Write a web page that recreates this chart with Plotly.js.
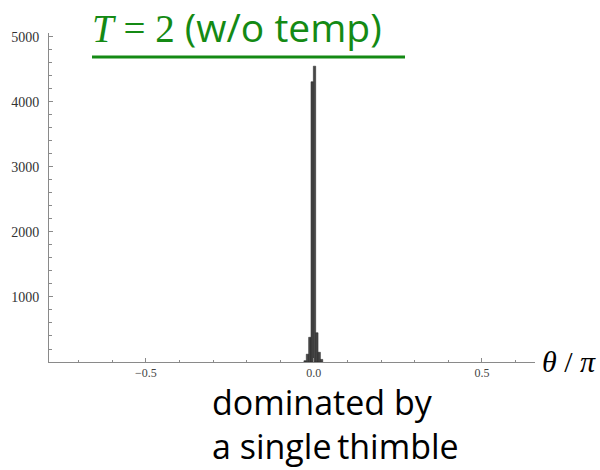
<!DOCTYPE html>
<html>
<head>
<meta charset="utf-8">
<script src="https://cdn.plot.ly/plotly-3.0.1.min.js"></script>
<style>
  html, body { margin: 0; padding: 0; background: #fff; }
  #chart { width: 600px; height: 470px; }
</style>
</head>
<body>
<div id="chart"></div>
<script>
// Histogram of the winding angle theta/pi, T = 2 without tempering
const binCenters = [-0.026, -0.019, -0.012, -0.005, 0.002, 0.009, 0.016, 0.023];
const binCounts  = [20, 120, 380, 4310, 4550, 450, 150, 40];
const binWidth = 0.007;

const xTickVals = [-0.5, 0.0, 0.5];
const xTickText = ['\u22120.5', '0.0', '0.5'];
const yTickVals = [1000, 2000, 3000, 4000, 5000];

const titleText = '<span style="font-family:\'Liberation Serif\'"><i>T</i> = 2</span> (w/o temp)';
const noteText = 'dominated by<br>a single\u2009thimble';
const axisLabel = '<i>\u03b8</i> / <i>\u03c0</i>';

const green = '#148a14';
const axisGrey = '#8a8a8a';

// plot area in pixels: left 49, right 535, top 33, bottom 362
const L = 49, R = 535, T = 33, B = 362;
const px = v => (v - L) / (R - L);
const py = v => (B - v) / (B - T);

const trace = {
  type: 'bar',
  x: binCenters,
  y: binCounts,
  width: binCenters.map(() => binWidth),
  marker: { color: 'rgba(55,55,55,0.92)', line: { color: '#222', width: 0.5 } },
  hoverinfo: 'x+y'
};

const layout = {
  width: 600, height: 470,
  margin: { l: L, r: 600 - R, t: T, b: 470 - B, pad: 0 },
  paper_bgcolor: '#fff', plot_bgcolor: '#fff',
  showlegend: false,
  bargap: 0,
  title: {
    text: titleText,
    xref: 'container', yref: 'container',
    x: 92 / 600, xanchor: 'left',
    y: 1 - 28 / 470, yanchor: 'middle',
    font: { family: 'Open Sans', size: 39, color: green }
  },
  xaxis: {
    range: [-0.788, 0.658],
    showline: true, linecolor: axisGrey, linewidth: 1,
    zeroline: false, showgrid: false,
    ticks: 'inside', ticklen: 4, tickwidth: 1, tickcolor: axisGrey,
    tickmode: 'array', tickvals: xTickVals, ticktext: xTickText,
    minor: { tickmode: 'linear', tick0: 0, dtick: 0.1, ticks: 'inside', ticklen: 2.5, tickcolor: axisGrey, showgrid: false },
    tickfont: { family: 'Liberation Serif', size: 12, color: '#444' },
    ticklabelstandoff: 0
  },
  yaxis: {
    range: [0, 5060],
    showline: true, linecolor: axisGrey, linewidth: 1,
    zeroline: false, showgrid: false,
    ticks: 'inside', ticklen: 4, tickwidth: 1, tickcolor: axisGrey,
    tickmode: 'array', tickvals: yTickVals,
    minor: { tickmode: 'linear', tick0: 0, dtick: 200, ticks: 'inside', ticklen: 2.5, tickcolor: axisGrey, showgrid: false },
    tickfont: { family: 'Liberation Serif', size: 14, color: '#333' },
    ticklabelstandoff: 6
  },
  shapes: [
    { type: 'line', xref: 'paper', yref: 'paper', x0: px(92), x1: px(405), y0: py(57), y1: py(57),
      line: { color: green, width: 3 } }
  ],
  annotations: [
    { text: axisLabel, xref: 'paper', yref: 'paper', x: px(540), y: py(361), xanchor: 'left', yanchor: 'middle',
      showarrow: false, font: { family: 'Liberation Serif', size: 30, color: '#000' } },
    { text: noteText, xref: 'paper', yref: 'paper', x: px(211), y: py(470), xanchor: 'left', yanchor: 'bottom',
      align: 'left', showarrow: false, borderpad: 0, font: { family: 'Open Sans', size: 34, color: '#000' } }
  ]
};

Plotly.newPlot('chart', [trace], layout, { displayModeBar: false, staticPlot: true });
</script>
</body>
</html>
